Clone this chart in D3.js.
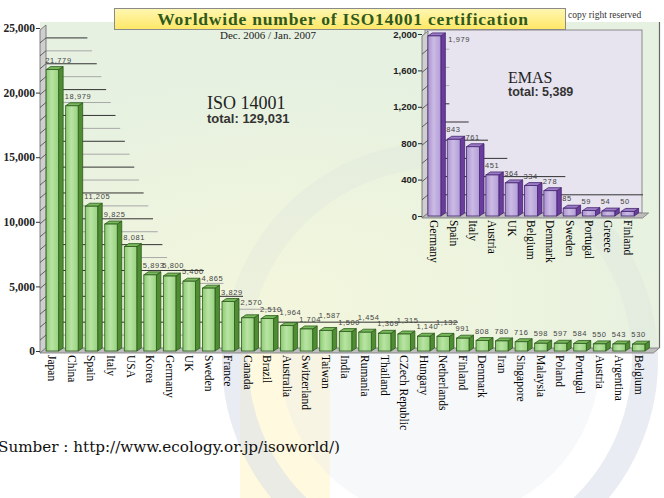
<!DOCTYPE html>
<html>
<head>
<meta charset="utf-8">
<script src="https://cdn.jsdelivr.net/npm/d3@7"></script>
<style>
    body { margin: 0; background: #fff; }
    svg { display: block; }
</style>
</head>
<body>
<script>
// ISO 14001 chart data (Dec. 2006 / Jan. 2007)
const isoCountries = ["Japan", "China", "Spain", "Italy", "USA", "Korea", "Germany", "UK", "Sweden", "France",
    "Canada", "Brazil", "Australia", "Switzerland", "Taiwan", "India", "Rumania", "Thailand", "CZech Republic",
    "Hungary", "Netherlands", "Finland", "Denmark", "Iran", "Singapore", "Malaysia", "Poland", "Portugal",
    "Austria", "Argentina", "Belgium"];
const isoValues = [21779, 18979, 11205, 9825, 8081, 5893, 5800, 5400, 4865, 3829,
    2570, 2510, 1964, 1704, 1587, 1500, 1454, 1369, 1315,
    1140, 1132, 991, 808, 780, 716, 598, 597, 584,
    550, 543, 530];
const isoTicks = [0, 5000, 10000, 15000, 20000, 25000];

// EMAS inset data
const emasCountries = ["Germany", "Spain", "Italy", "Austria", "UK", "Belgium", "Denmark", "Sweden", "Portugal", "Greece", "Finland"];
const emasValues = [1979, 843, 761, 451, 364, 334, 278, 85, 59, 54, 50];
const emasTicks = [0, 400, 800, 1200, 1600, 2000];

const svgWidth = 664;
const svgHeight = 498;
const fmt = d3.format(",");

const svg = d3.select("body")
    .append("svg")
    .attr("width", svgWidth)
    .attr("height", svgHeight);

const defs = svg.append("defs");

// gradients
const panelGrad = defs.append("radialGradient").attr("id", "panelGrad")
    .attr("cx", "0.4").attr("cy", "0.85").attr("r", "0.7");
panelGrad.append("stop").attr("offset", "0").attr("stop-color", "#f3f6dc");
panelGrad.append("stop").attr("offset", "1").attr("stop-color", "#e6f1e1");

const titleGrad = defs.append("linearGradient").attr("id", "titleGrad")
    .attr("x1", 0).attr("y1", 0).attr("x2", 0).attr("y2", 1);
titleGrad.append("stop").attr("offset", "0").attr("stop-color", "#fff7b2");
titleGrad.append("stop").attr("offset", "1").attr("stop-color", "#ffe766");

const greenFront = defs.append("linearGradient").attr("id", "greenFront");
greenFront.append("stop").attr("offset", "0").attr("stop-color", "#8ccc72");
greenFront.append("stop").attr("offset", "0.45").attr("stop-color", "#b9e4a4");
greenFront.append("stop").attr("offset", "1").attr("stop-color", "#98d37f");

const purpleFront = defs.append("linearGradient").attr("id", "purpleFront");
purpleFront.append("stop").attr("offset", "0").attr("stop-color", "#ab92d0");
purpleFront.append("stop").attr("offset", "0.45").attr("stop-color", "#cbbbe4");
purpleFront.append("stop").attr("offset", "1").attr("stop-color", "#b39ed8");

// Scales
const isoY = d3.scaleLinear().domain([0, 25000]).range([351, 28]);
const isoX = d3.scaleBand().domain(isoCountries).range([43, 648]).paddingInner(0.36).paddingOuter(0.16);
const emasY = d3.scaleLinear().domain([0, 2000]).range([216, 34]);
const emasX = d3.scaleBand().domain(emasCountries).range([425, 637]).paddingInner(0.33).paddingOuter(0.15);

const dx = 4.5, dy = 3;

// faint watermark seal (behind everything)
const wm = svg.append("g");
wm.append("rect").attr("x", 240).attr("y", 340).attr("width", 90).attr("height", 158)
    .attr("fill", "#fff6c4").attr("opacity", 0.55);
wm.append("circle").attr("cx", 440).attr("cy", 360).attr("r", 205)
    .attr("fill", "none").attr("stroke", "#dfe4ee").attr("stroke-width", 26).attr("opacity", 0.5);
wm.append("circle").attr("cx", 440).attr("cy", 360).attr("r", 160)
    .attr("fill", "#e4e8f0").attr("opacity", 0.3);

// Main panel background
const y0 = isoY(0);
svg.append("rect")
    .attr("x", 40).attr("y", 22)
    .attr("width", 620).attr("height", y0 - dy - 22)
    .attr("fill", "url(#panelGrad)");
svg.append("circle").attr("cx", 440).attr("cy", 360).attr("r", 205)
    .attr("fill", "none").attr("stroke", "#c9d0dc").attr("stroke-width", 26).attr("opacity", 0.12);
svg.append("line")
    .attr("x1", 659.5).attr("x2", 659.5).attr("y1", 22).attr("y2", y0 - dy)
    .attr("stroke", "#666").attr("stroke-width", 1.2);

// Draw a set of 3D bars with gridlines, wall and floor
function draw3D(g, names, values, x, y, opts) {
    const w = x.bandwidth();
    const base = y(0);
    const xl = x(names[0]) - (x.step() * x.paddingOuter()) - 3;
    const xr = x(names[names.length - 1]) + w + dx + 4;

    // gridlines on back wall
    g.selectAll("line.grid")
        .data(opts.grid)
        .join("line")
        .attr("class", "grid")
        .attr("x1", xl + 6)
        .attr("x2", v => opts.gridEnd(v))
        .attr("y1", v => y(v) - dy)
        .attr("y2", v => y(v) - dy)
        .attr("stroke", v => opts.gridColor(v))
        .attr("stroke-width", 1);

    // left wall
    const yTop = y(opts.max) - dy;
    g.append("path")
        .attr("d", `M${xl},${yTop + 5} L${xl + 6},${yTop} L${xl + 6},${base - dy} L${xl},${base + 2} Z`)
        .attr("fill", "#cfcfcf").attr("stroke", "#666").attr("stroke-width", 0.8);
    g.selectAll("line.wall")
        .data(opts.grid)
        .join("line")
        .attr("x1", xl).attr("x2", xl + 6)
        .attr("y1", v => y(v) + 2).attr("y2", v => y(v) - dy)
        .attr("stroke", "#444").attr("stroke-width", 0.8);

    // floor
    g.append("path")
        .attr("d", `M${xl},${base + 2} L${xl + 6},${base - dy} L${xr + 6},${base - dy} L${xr},${base + 2} Z`)
        .attr("fill", "#bdbdbd").attr("stroke", "#777").attr("stroke-width", 0.8);

    // axis ticks and labels
    g.append("g")
        .attr("transform", `translate(${xl},0)`)
        .call(d3.axisLeft(y).tickValues(opts.ticks).tickFormat(fmt).tickSize(4).tickPadding(1))
        .call(a => a.select(".domain").remove())
        .call(a => a.selectAll("text")
            .attr("font-family", opts.tickFont)
            .attr("font-weight", "bold")
            .attr("font-size", opts.tickSize)
            .attr("fill", "#222"))
        .call(a => a.selectAll("line").attr("stroke", "#333"));

    const data = names.map((n, i) => ({ name: n, value: values[i] }));
    const bars = g.selectAll("g.bar").data(data).join("g").attr("class", "bar");

    // side
    bars.append("path")
        .attr("d", d => {
            const x1 = x(d.name) + w, yt = y(d.value);
            return `M${x1},${yt} L${x1 + dx},${yt - dy} L${x1 + dx},${base - dy} L${x1},${base} Z`;
        })
        .attr("fill", opts.side).attr("stroke", opts.edge).attr("stroke-width", 0.8);
    // top
    bars.append("path")
        .attr("d", d => {
            const x1 = x(d.name), yt = y(d.value);
            return `M${x1},${yt} L${x1 + dx},${yt - dy} L${x1 + w + dx},${yt - dy} L${x1 + w},${yt} Z`;
        })
        .attr("fill", opts.top).attr("stroke", opts.edge).attr("stroke-width", 0.8);
    // front
    bars.append("rect")
        .attr("x", d => x(d.name))
        .attr("y", d => y(d.value))
        .attr("width", w)
        .attr("height", d => base - y(d.value))
        .attr("fill", opts.front).attr("stroke", opts.edge).attr("stroke-width", 0.8);

    // value labels
    const vals = g.selectAll("text.val")
        .data(data)
        .join("text")
        .attr("class", "val")
        .attr("x", d => y(d.value) - dy - 5 < opts.labelTop ? x(d.name) + w + dx + 3 : x(d.name) - 1)
        .attr("y", d => y(d.value) - dy - 5 < opts.labelTop ? y(d.value) + 6 : y(d.value) - dy - 4)
        .attr("font-family", "Liberation Sans, Arial, sans-serif")
        .attr("font-size", 7.5)
        .attr("letter-spacing", 0.6)
        .attr("fill", "#444")
        .text(d => fmt(d.value));

    // stagger: going right to left, lift a label that runs into an unlifted right neighbour
    const nodes = vals.nodes();
    let next = null;
    for (let i = nodes.length - 1; i >= 0; i--) {
        const t = d3.select(nodes[i]);
        const lx = +t.attr("x");
        let ly = +t.attr("y");
        const lw = nodes[i].getComputedTextLength();
        let lifted = false;
        if (next && !next.lifted && lx + lw > next.x + 1 && Math.abs(next.y - ly) < 5.5) {
            ly = Math.min(ly, next.y - 6.5);
            t.attr("y", ly);
            lifted = true;
        }
        next = { x: lx, y: ly, lifted: lifted };
    }

    // category labels, rotated
    g.selectAll("text.cat")
        .data(data)
        .join("text")
        .attr("class", "cat")
        .attr("transform", d => `translate(${x(d.name) + w / 2},${base + 4}) rotate(90)`)
        .attr("dy", "0.35em")
        .attr("font-family", "Liberation Serif, Times New Roman, serif")
        .attr("font-size", 11.5)
        .attr("fill", "#000")
        .text(d => d.name);
}

// gridline extents: stair-step lines ending beyond the last bar above the level below
function stairEnd(names, values, x, step, v) {
    if (v - step <= 0) return null;
    let idx = -1;
    values.forEach((val, i) => { if (val >= v - step) idx = i; });
    return idx < 0 ? null : x(names[idx]) + x.bandwidth() + dx + 4;
}

// Main ISO 14001 chart
const isoGroup = svg.append("g");
draw3D(isoGroup, isoCountries, isoValues, isoX, isoY, {
    max: 25000,
    ticks: isoTicks,
    grid: d3.range(1000, 25000, 1000),
    gridEnd: v => {
        const diag = isoX("China") + isoX.bandwidth() + dx + (25000 - v) / 1000 * isoX.step() * 0.24;
        const stair = stairEnd(isoCountries, isoValues, isoX, 1000, v);
        return Math.max(diag, stair || 0);
    },
    gridColor: v => (v / 1000) % 2 === 0 ? "#333" : "#a8a8a8",
    tickFont: "Liberation Serif, serif",
    tickSize: 11.5,
    front: "url(#greenFront)",
    side: "#4f8d33",
    top: "#78b95c",
    edge: "#2c5a1c",
    labelTop: 0
});

// EMAS inset box
svg.append("rect")
    .attr("x", 425).attr("y", 30)
    .attr("width", 217).attr("height", emasY(0) - dy - 30)
    .attr("fill", "#e7e3ef").attr("stroke", "#8a8a8a").attr("stroke-width", 1);

const emasGroup = svg.append("g");
draw3D(emasGroup, emasCountries, emasValues, emasX, emasY, {
    max: 2000,
    ticks: emasTicks,
    grid: d3.range(200, 2000, 200),
    gridEnd: v => stairEnd(emasCountries, emasValues, emasX, 200, v) || 643,
    gridColor: v => v <= 1200 ? "#333" : "#b0b0b0",
    tickFont: "Liberation Sans, Arial, sans-serif",
    tickSize: 9.5,
    front: "url(#purpleFront)",
    side: "#6a3c9e",
    top: "#9a7cc7",
    edge: "#45256f",
    labelTop: 34
});

// Title box
svg.append("rect")
    .attr("x", 114.5).attr("y", 8.5)
    .attr("width", 451).attr("height", 21)
    .attr("fill", "url(#titleGrad)")
    .attr("stroke", "#8a8a8a");
svg.append("text")
    .attr("x", 343).attr("y", 25)
    .attr("text-anchor", "middle")
    .attr("font-family", "Liberation Serif, Times New Roman, serif")
    .attr("font-weight", "bold")
    .attr("font-size", 17.5)
    .attr("letter-spacing", 0.8)
    .attr("fill", "#2f5a1d")
    .text("Worldwide number of ISO14001 certification");

svg.append("text")
    .attr("x", 568).attr("y", 18)
    .attr("font-family", "Liberation Serif, serif")
    .attr("font-size", 9.5)
    .attr("fill", "#333")
    .text("copy right reserved");

svg.append("text")
    .attr("x", 220).attr("y", 39)
    .attr("font-family", "Liberation Serif, serif")
    .attr("font-size", 11)
    .attr("fill", "#222")
    .text("Dec. 2006 / Jan. 2007");

// Totals
svg.append("text")
    .attr("x", 207).attr("y", 109)
    .attr("font-family", "Liberation Serif, serif")
    .attr("font-size", 18)
    .attr("fill", "#222")
    .text("ISO 14001");
svg.append("text")
    .attr("x", 207).attr("y", 123)
    .attr("font-family", "Liberation Sans, Arial, sans-serif")
    .attr("font-weight", "bold")
    .attr("font-size", 13)
    .attr("fill", "#333")
    .text("total: 129,031");

svg.append("text")
    .attr("x", 508).attr("y", 83)
    .attr("font-family", "Liberation Serif, serif")
    .attr("font-size", 16)
    .attr("fill", "#222")
    .text("EMAS");
svg.append("text")
    .attr("x", 508).attr("y", 96)
    .attr("font-family", "Liberation Sans, Arial, sans-serif")
    .attr("font-weight", "bold")
    .attr("font-size", 12.5)
    .attr("fill", "#333")
    .text("total: 5,389");

// Source line
svg.append("text")
    .attr("x", -2).attr("y", 452)
    .attr("font-family", "DejaVu Serif, serif")
    .attr("font-size", 14)
    .attr("textLength", 342)
    .attr("lengthAdjust", "spacingAndGlyphs")
    .attr("fill", "#111")
    .text("Sumber : http://www.ecology.or.jp/isoworld/)");
</script>
</body>
</html>
